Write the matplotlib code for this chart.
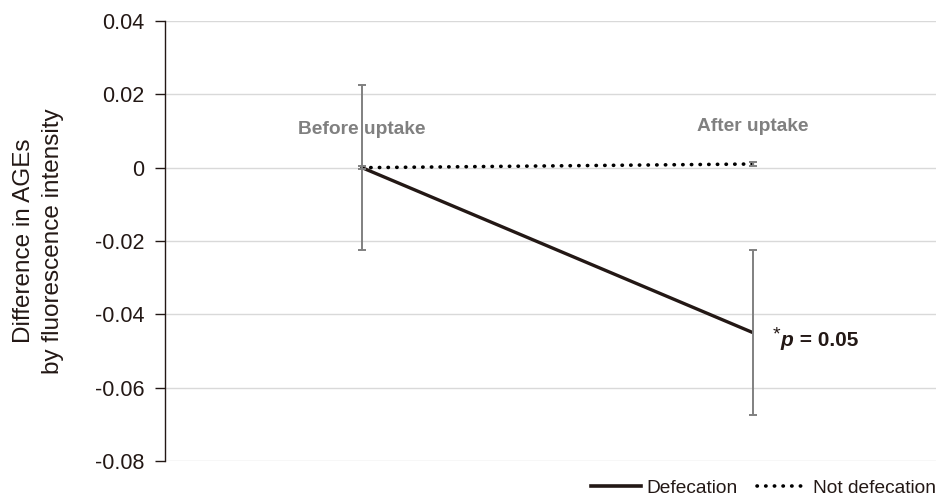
import matplotlib
matplotlib.use("Agg")
import matplotlib.pyplot as plt
from matplotlib.lines import Line2D
from matplotlib.transforms import offset_copy

plt.rcParams['font.family'] = ['Liberation Sans', 'DejaVu Sans']

# Data
phases = ["Before uptake", "After uptake"]
defecation = [0.0, -0.045]
defecation_err = [0.0225, 0.0225]
not_defecation = [0.0, 0.001]
not_defecation_err = [0.0005, 0.0005]
y_ticks = [0.04, 0.02, 0, -0.02, -0.04, -0.06, -0.08]
y_tick_labels = ["0.04", "0.02", "0", "-0.02", "-0.04", "-0.06", "-0.08"]
p_text = "0.05"

dark = "#231815"
gray = "#808080"
dotted = (0, (0.1, 2.3))

fig = plt.figure(figsize=(9.39, 4.97), dpi=100)
ax = fig.add_axes([165 / 939, 1 - 461 / 497, (936 - 165) / 939, (461 - 21) / 497])

x = [0, 1]
ax.set_xlim(-0.504, 1.468)
ax.set_ylim(-0.08, 0.04)

# gridlines
ax.set_yticks(y_ticks)
ax.set_yticklabels(y_tick_labels)
ax.yaxis.grid(True, color="#d9d9d9", linewidth=1.0)
ax.set_axisbelow(True)
ax.set_xticks([])

for s in ["top", "right", "bottom"]:
    ax.spines[s].set_visible(False)
ax.spines["left"].set_color(dark)
ax.spines["left"].set_linewidth(1.0)
ax.tick_params(axis="y", direction="out", length=7, width=1.0, color=dark,
               labelsize=15.5, labelcolor=dark, pad=8)

# series
ax.plot(x, defecation, color=dark, linewidth=2.4, solid_capstyle="butt", zorder=3)
ax.plot(x, not_defecation, color="black", linewidth=2.6, linestyle=dotted,
        dash_capstyle="round", zorder=3)

# error bars
ax.errorbar(x, defecation, yerr=defecation_err, fmt="none", ecolor=gray,
            elinewidth=1.4, capsize=3, capthick=1.4, zorder=4)
ax.errorbar(x, not_defecation, yerr=not_defecation_err, fmt="none", ecolor=gray,
            elinewidth=1.4, capsize=3, capthick=1.4, zorder=4)

# phase labels
ax.text(0, 0.0104, phases[0], ha="center", va="center", color=gray,
        fontsize=13.8, fontweight="bold")
ax.text(1, 0.0112, phases[1], ha="center", va="center", color=gray,
        fontsize=13.8, fontweight="bold")

# significance annotation
fig.canvas.draw()
renderer = fig.canvas.get_renderer()
base = offset_copy(ax.transData, fig=fig, x=14.0, y=-9.6, units="points")
t1 = ax.text(1, defecation[1], "*", transform=offset_copy(base, fig=fig, x=0, y=4.5, units="points"),
             ha="left", va="baseline", fontsize=14, color=dark)
bb = t1.get_window_extent(renderer)
t2 = ax.text(1, defecation[1], "p",
             transform=offset_copy(base, fig=fig, x=bb.width * 72 / fig.dpi + 0.5, y=0, units="points"),
             ha="left", va="baseline", fontsize=15, color=dark,
             fontweight="bold", fontstyle="italic")
bb2 = t2.get_window_extent(renderer)
t3 = ax.text(1, defecation[1], " = " + p_text,
             transform=offset_copy(base, fig=fig,
                                   x=(bb.width + bb2.width) * 72 / fig.dpi + 0.5, y=0, units="points"),
             ha="left", va="baseline", fontsize=15, color=dark, fontweight="bold")

ax.set_ylabel("Difference in AGEs\nby fluorescence intensity", fontsize=17.5, color=dark,
              labelpad=22, linespacing=1.42)

handles = [Line2D([], [], color=dark, linewidth=2.6),
           Line2D([], [], color="black", linewidth=2.6, linestyle=dotted,
                  dash_capstyle="round")]
fig.legend(handles, ["Defecation", "Not defecation"], loc="lower right",
           bbox_to_anchor=(1.015, -0.034), ncol=2, frameon=False, fontsize=13.8,
           handlelength=2.6, handletextpad=0.3, columnspacing=1.0,
           labelcolor=dark)

fig.savefig("out.png", dpi=100)
